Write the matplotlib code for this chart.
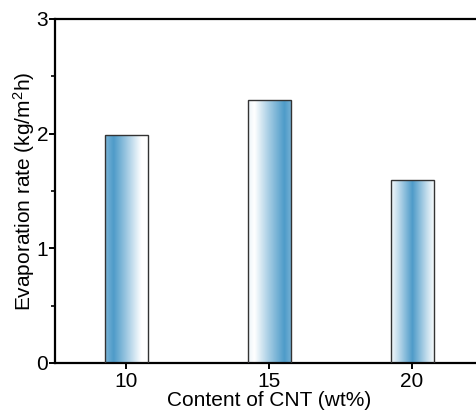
import numpy as np
import matplotlib.pyplot as plt
from matplotlib.colors import LinearSegmentedColormap
from matplotlib.ticker import MultipleLocator

plt.rcParams['font.family'] = ['Liberation Sans', 'DejaVu Sans']
plt.rcParams['mathtext.fontset'] = 'custom'
plt.rcParams['mathtext.rm'] = 'Liberation Sans'
plt.rcParams['mathtext.it'] = 'Liberation Sans:italic'

cnt = [10, 15, 20]
rate = [1.99, 2.29, 1.60]

# horizontal shading of each bar: (position across bar, intensity)
shades = [
    ([0.0, 0.2, 0.45, 0.85, 1.0], [0.7, 0.95, 0.6, 0.0, 0.0]),
    ([0.0, 0.15, 0.5, 0.85, 1.0], [0.1, 0.0, 0.5, 0.95, 0.75]),
    ([0.0, 0.15, 0.5, 0.85, 1.0], [0.05, 0.3, 0.95, 0.3, 0.05]),
]
bar_w = 1.5

cmap = LinearSegmentedColormap.from_list('blu', ['#ffffff', '#4596c6'])

fig = plt.figure(figsize=(4.77, 4.16), dpi=100)
ax = fig.add_axes([55/477, 53/416, (483.5-55)/477, (363-19)/416])

bars = ax.bar(cnt, rate, width=bar_w, facecolor='none', edgecolor='#333333', linewidth=1, zorder=3)
for b, (pos, val) in zip(bars, shades):
    x0, y0 = b.get_x(), b.get_y()
    w, h = b.get_width(), b.get_height()
    t = np.linspace(0, 1, 200)
    grad = np.interp(t, pos, val)[None, :]
    im = ax.imshow(grad, cmap=cmap, vmin=0, vmax=1, aspect='auto',
                   extent=[x0, x0 + w, y0, y0 + h], zorder=2, interpolation='bilinear')
    im.set_clip_path(b)

ax.set_xlim(7.5, 22.5)
ax.set_ylim(0, 3)
ax.set_xticks(cnt)
ax.set_yticks([0, 1, 2, 3])
ax.yaxis.set_minor_locator(MultipleLocator(0.5))
for s in ax.spines.values():
    s.set_linewidth(1.6)
ax.tick_params(axis='both', which='major', length=4.5, width=1.4, labelsize=15, direction='out')
ax.tick_params(axis='y', which='minor', length=3, width=1.2)
ax.tick_params(axis='y', pad=0.5)
ax.tick_params(axis='x', pad=2)
ax.set_xlabel('Content of CNT (wt%)', fontsize=15, labelpad=0)
ax.set_ylabel('Evaporation rate (kg/m$^2$h)', fontsize=15)
ax.yaxis.set_label_coords(-0.043, 0.5)

fig.savefig('out.png', dpi=100)
